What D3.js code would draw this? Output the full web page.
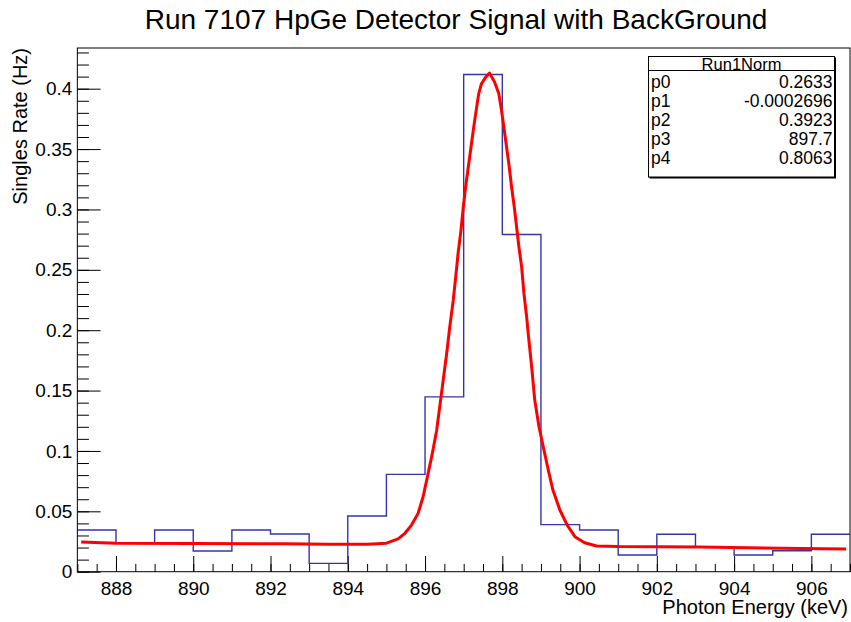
<!DOCTYPE html>
<meta charset="utf-8">
<style>

body {
  margin: 0;
  background: #fff;
}

svg {
  font-family: "Liberation Sans", Arial, sans-serif;
}

.axis path {
  display: none;
}

.axis line {
  stroke: #000;
}

.axis text {
  font-size: 19px;
  fill: #000;
}

.frame {
  fill: none;
  stroke: #000;
}

.hist {
  fill: none;
  stroke: #3535aa;
  stroke-width: 1.4;
}

.fit {
  fill: none;
  stroke: #ff0000;
  stroke-width: 3;
  stroke-linejoin: round;
}

.stats text {
  font-size: 17.5px;
}

</style>
<body>
<script src="https://d3js.org/d3.v7.min.js"></script>
<script>

// histogram: left bin edges (keV) and singles rate (Hz)
var binEdges = [887, 888, 889, 890, 891, 892, 893, 894, 895, 896,
                897, 898, 899, 900, 901, 902, 903, 904, 905, 906];
var binRates = [0.0345, 0.0238, 0.0345, 0.0171, 0.0345, 0.0312, 0.0069, 0.0461, 0.0806, 0.1448,
                0.4118, 0.2792, 0.0390, 0.0345, 0.0138, 0.0310, 0.0207, 0.0138, 0.0174, 0.0310];
var binWidth = 1;

// fitted curve
var fitEnergy = [887.1, 888.0, 890.0, 892.4, 893.5, 894.5, 895.0, 895.3, 895.48, 895.65,
                 895.82, 895.95, 896.08, 896.18, 896.30, 896.38, 896.47, 896.56, 896.64, 896.73,
                 896.80, 896.86, 896.93, 896.99, 897.05, 897.12, 897.19, 897.26, 897.33, 897.39,
                 897.46, 897.57, 897.67, 897.80, 897.91, 897.98, 898.04, 898.11, 898.18, 898.24,
                 898.31, 898.37, 898.43, 898.50, 898.56, 898.63, 898.67, 898.76, 898.84, 898.95,
                 899.06, 899.19, 899.31, 899.49, 899.68, 899.88, 900.13, 900.44, 901.0, 903.1,
                 905.2, 906.9];
var fitRate = [0.0245, 0.0236, 0.0234, 0.0231, 0.0228, 0.0227, 0.0236, 0.0272, 0.0318, 0.0386,
               0.0483, 0.0621, 0.0814, 0.0965, 0.1170, 0.1365, 0.1586, 0.1807, 0.2027, 0.2248,
               0.2460, 0.2650, 0.2827, 0.3020, 0.3186, 0.3351, 0.3517, 0.3682, 0.3835, 0.3959,
               0.4041, 0.4096, 0.4129, 0.4055, 0.3959, 0.3820, 0.3682, 0.3517, 0.3351, 0.3186,
               0.3020, 0.2855, 0.2689, 0.2524, 0.2304, 0.2110, 0.1973, 0.1696, 0.1421, 0.1200,
               0.1034, 0.0842, 0.0676, 0.0511, 0.0386, 0.0290, 0.0240, 0.0213, 0.0208, 0.0205,
               0.0194, 0.0188];

// axis ticks
var xMajor = [888, 890, 892, 894, 896, 898, 900, 902, 904, 906];
var xMinor = d3.range(887, 907.01, 0.5);
var yMajor = [0, 0.05, 0.1, 0.15, 0.2, 0.25, 0.3, 0.35, 0.4];
var yMajorLabels = ["0", "0.05", "0.1", "0.15", "0.2", "0.25", "0.3", "0.35", "0.4"];
var yMinor = d3.range(0, 0.4301, 0.01);

// fit box
var statsTitle = "Run1Norm";
var statsNames = ["p0", "p1", "p2", "p3", "p4"];
var statsValues = ["0.2633", "-0.0002696", "0.3923", "897.7", "0.8063"];

var width = 851,
    height = 622,
    frameLeft = 77.35,
    frameRight = 850,
    frameTop = 48,
    frameBottom = 571.7;

var x = d3.scaleLinear()
    .domain([887, 907])
    .range([frameLeft, frameRight]);

var y = d3.scaleLinear()
    .domain([0, 0.4337])
    .range([frameBottom, frameTop]);

var svg = d3.select("body").append("svg")
    .attr("width", width)
    .attr("height", height);

// Title
svg.append("text")
    .attr("x", 456)
    .attr("y", 29)
    .attr("text-anchor", "middle")
    .style("font-size", "28px")
    .text("Run 7107 HpGe Detector Signal with BackGround");

// X axis, ticks pointing into the frame
svg.append("g")
    .attr("class", "x axis")
    .attr("transform", "translate(0," + frameBottom + ")")
    .call(d3.axisBottom(x).tickValues(xMinor).tickSizeInner(-7.8).tickSizeOuter(0).tickFormat(""));

svg.append("g")
    .attr("class", "x axis")
    .attr("transform", "translate(0," + frameBottom + ")")
    .call(d3.axisBottom(x).tickValues(xMajor).tickSizeInner(-15.7).tickSizeOuter(0).tickPadding(10)
      .tickFormat(d3.format("d")));

// Y axis
svg.append("g")
    .attr("class", "y axis")
    .attr("transform", "translate(" + frameLeft + ",0)")
    .call(d3.axisLeft(y).tickValues(yMinor).tickSizeInner(-11.6).tickSizeOuter(0).tickFormat(""));

svg.append("g")
    .attr("class", "y axis")
    .attr("transform", "translate(" + frameLeft + ",0)")
    .call(d3.axisLeft(y).tickValues(yMajor).tickSizeInner(-23.2).tickSizeOuter(0).tickPadding(5)
      .tickFormat(function(d, i) { return yMajorLabels[i]; }));

// Axis titles
svg.append("text")
    .attr("x", 848)
    .attr("y", 614)
    .attr("text-anchor", "end")
    .style("font-size", "20px")
    .text("Photon Energy (keV)");

svg.append("text")
    .attr("transform", "translate(27," + frameTop + ") rotate(-90)")
    .attr("text-anchor", "end")
    .style("font-size", "20px")
    .text("Singles Rate (Hz)");

// Histogram as a step outline
var steps = [];
binEdges.forEach(function(e, i) {
  steps.push([e, binRates[i]]);
  steps.push([e + binWidth, binRates[i]]);
});

svg.append("path")
    .attr("class", "hist")
    .attr("d", d3.line()
      .x(function(d) { return x(d[0]); })
      .y(function(d) { return y(d[1]); })(steps));

// Fit curve (drawn as a polyline, like the original)
svg.append("path")
    .attr("class", "fit")
    .attr("d", d3.line()
      .x(function(d) { return x(d); })
      .y(function(d, i) { return y(fitRate[i]); })(fitEnergy));

// Frame
svg.append("rect")
    .attr("class", "frame")
    .attr("x", frameLeft)
    .attr("y", frameTop)
    .attr("width", frameRight - frameLeft)
    .attr("height", frameBottom - frameTop);

// Fit parameter box
var box = svg.append("g")
    .attr("class", "stats");

box.append("rect")
    .attr("x", 649.5)
    .attr("y", 57.5)
    .attr("width", 186.5)
    .attr("height", 121)
    .attr("fill", "#000");

box.append("rect")
    .attr("x", 648.5)
    .attr("y", 56.5)
    .attr("width", 186)
    .attr("height", 120.5)
    .attr("fill", "#fff")
    .attr("stroke", "#000");

box.append("line")
    .attr("x1", 648.5)
    .attr("x2", 834.5)
    .attr("y1", 70.5)
    .attr("y2", 70.5)
    .attr("stroke", "#000");

box.append("text")
    .attr("x", 741.5)
    .attr("y", 64)
    .attr("dy", "0.35em")
    .attr("text-anchor", "middle")
    .style("font-size", "16.5px")
    .text(statsTitle);

box.selectAll(".pname")
    .data(statsNames)
  .enter().append("text")
    .attr("class", "pname")
    .attr("x", 651)
    .attr("y", function(d, i) { return 82.3 + i * 18.8; })
    .attr("dy", "0.35em")
    .text(function(d) { return d; });

box.selectAll(".pval")
    .data(statsValues)
  .enter().append("text")
    .attr("class", "pval")
    .attr("x", 832.5)
    .attr("y", function(d, i) { return 82.3 + i * 18.8; })
    .attr("dy", "0.35em")
    .attr("text-anchor", "end")
    .text(function(d) { return d; });

</script>
